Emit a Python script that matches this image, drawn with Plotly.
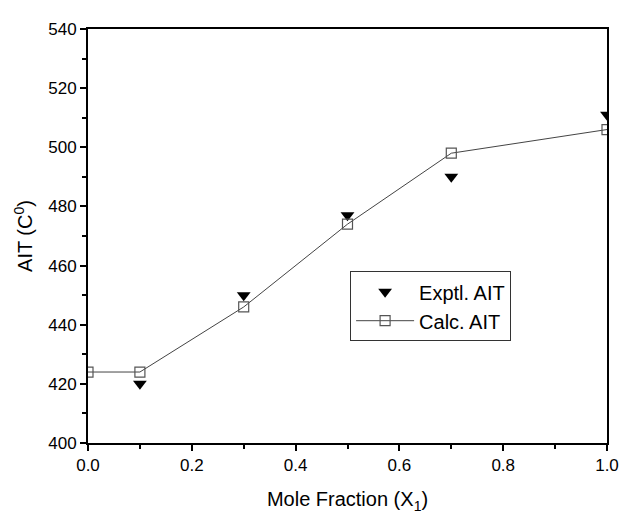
import plotly.graph_objects as go

x_exp = [0.1, 0.3, 0.5, 0.7, 1.0]
y_exp = [420, 450, 477, 490, 511]
x_calc = [0.0, 0.1, 0.3, 0.5, 0.7, 1.0]
y_calc = [424, 424, 446, 474, 498, 506]

fig = go.Figure()
fig.add_trace(go.Scatter(x=x_exp, y=y_exp, mode="markers", name="Exptl. AIT",
                         marker=dict(symbol="triangle-down", size=12, color="black")))
fig.add_trace(go.Scatter(x=x_calc, y=y_calc, mode="lines+markers", name="Calc. AIT",
                         line=dict(color="#444444", width=1),
                         marker=dict(symbol="square-open", size=10, color="#555555",
                                     line=dict(width=1.2))))

axis_common = dict(showline=True, linecolor="black", linewidth=2, mirror=True,
                   ticks="outside", ticklen=6, tickwidth=2, tickcolor="black",
                   showgrid=False, zeroline=False,
                   tickfont=dict(family="Liberation Sans, Arial", size=17, color="black"))

fig.update_layout(
    width=623, height=515,
    margin=dict(l=80, r=24, t=12, b=80),
    paper_bgcolor="white", plot_bgcolor="white",
    font=dict(family="Liberation Sans, Arial", color="black"),
    xaxis=dict(range=[0, 1.0], tickvals=[0, 0.2, 0.4, 0.6, 0.8, 1.0],
               ticktext=["0.0", "0.2", "0.4", "0.6", "0.8", "1.0"],
               minor=dict(dtick=0.1, ticks="outside", ticklen=4, tickwidth=2, tickcolor="black"),
               title=dict(text="Mole Fraction (X<sub>1</sub>)", font=dict(size=20), standoff=18),
               **axis_common),
    yaxis=dict(range=[400, 540], dtick=20,
               minor=dict(dtick=10, ticks="outside", ticklen=4, tickwidth=2, tickcolor="black"),
               title=dict(text="AIT (C<sup>0</sup>)", font=dict(size=20), standoff=10),
               **axis_common),
    legend=dict(x=0.505, y=0.415, xanchor="left", yanchor="top",
                bordercolor="#333333", borderwidth=1, bgcolor="white",
                itemwidth=58,
                font=dict(size=20, color="black"), tracegroupgap=0),
    showlegend=True,
)

fig.write_html("out.html")
